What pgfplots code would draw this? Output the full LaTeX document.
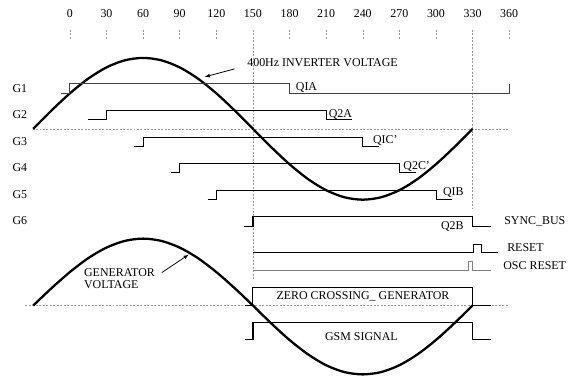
\documentclass[border=0pt]{standalone}
\usepackage{fontspec}
\setmainfont{Liberation Serif}
\usepackage{pgfplots}
\pgfplotsset{compat=1.18}
\begin{document}
\fontsize{12}{13.5}\selectfont
\begin{tikzpicture}
\begin{axis}[width=570bp,height=377bp,scale only axis,hide axis,
  xmin=-57.27,xmax=409.09,ymin=0,ymax=377,y dir=reverse,clip=false,
  every axis plot/.append style={line join=miter}]
\path (rel axis cs:0,0) rectangle (rel axis cs:1,1);
% dashed guides
\pgfplotsset{guide/.style={gray!80,line width=0.5pt,dash pattern=on 2pt off 1.5pt}}
\addplot[guide] coordinates {(-30.6,129) (359.5,129)};
\addplot[guide] coordinates {(-36.4,306) (359.5,306)};
\addplot[guide] coordinates {(150,30) (150,280)};
\addplot[guide] coordinates {(330,30) (330,208)};
\pgfplotsinvokeforeach{0,30,60,90,120,180,210,240,270,300,360}{
  \addplot[guide] coordinates {(#1,30) (#1,40)};
}
\pgfplotsinvokeforeach{0,30,60,90,120,150,180,210,240,270,300,330,360}{
  \node at (axis cs:#1,14) {#1};
}
% inverter voltage
\addplot[black,line width=2.3pt,smooth] coordinates {
(-30,129) (-15,110.6) (0,93.5) (15,78.8) (30,67.5) (45,60.4) (60,58)
(75,60.4) (90,67.5) (105,78.8) (120,93.5) (135,110.6) (150,129)
(165,147.4) (180,164.5) (195,179.2) (210,190.5) (225,197.6) (240,200)
(255,197.6) (270,190.5) (285,179.2) (300,164.5) (315,147.4) (330,129)};
% generator voltage
\addplot[black,line width=2.3pt,smooth] coordinates {
(-30,306) (-15,288.6) (0,272.5) (15,258.6) (30,248) (45,241.3) (60,239)
(75,241.3) (90,248) (105,258.6) (120,272.5) (135,288.6) (150,306)
(165,323.9) (180,340.5) (195,354.8) (210,365.8) (225,372.7) (240,375)
(255,372.7) (270,365.8) (285,354.8) (300,340.5) (315,323.9) (330,306)};
% gate signals
\addplot[black!75,line width=0.9pt] coordinates {(-7.4,94) (0,94) (0,84) (180,84) (180,94) (360,94) (360,84)};
\addplot[black,line width=0.8pt] coordinates {(14.7,120) (30,120) (30,111) (210,111) (210,120) (231.6,120)};
\addplot[black,line width=0.8pt] coordinates {(52.4,147) (60,147) (60,138) (240,138) (240,147) (253.6,147)};
\addplot[black,line width=0.8pt] coordinates {(82.6,173) (90,173) (90,164) (270,164) (270,173) (284,173)};
\addplot[black,line width=0.8pt] coordinates {(112.9,200) (120,200) (120,191) (300,191) (300,200) (313.4,200)};
\addplot[black,line width=1.3pt] coordinates {(142.4,227) (150,227) (150,217) (330,217) (330,227) (345.3,227)};
% reset
\addplot[black,line width=0.8pt] coordinates {(150,253) (330.6,253) (330.6,244.5) (337.4,244.5) (337.4,253) (350.5,253)};
\addplot[gray,line width=1.1pt] coordinates {(150,271) (326.5,271) (326.5,262) (329.8,262) (329.8,271) (345.3,271)};
% zero crossing
\addplot[black,line width=0.9pt] coordinates {(143.2,306) (150,306) (150,288) (330,288) (330,306) (345.3,306)};
% gsm
\addplot[black,line width=1.3pt] coordinates {(143.2,340) (150,340) (150,323) (330,323) (330,340) (345.3,340)};
% labels
\node at (axis cs:-41,89) {G1};
\node at (axis cs:-41,115) {G2};
\node at (axis cs:-41,142) {G3};
\node at (axis cs:-41,168) {G4};
\node at (axis cs:-41,195) {G5};
\node at (axis cs:-41,221) {G6};
\node at (axis cs:193.9,88) {QIA};
\node at (axis cs:221.7,115) {Q2A};
\node at (axis cs:258.5,141) {QIC'};
\node at (axis cs:284.2,167) {Q2C'};
\node at (axis cs:314.2,193) {QIB};
\node at (axis cs:313.4,227) {Q2B};
\node[anchor=west] at (axis cs:352.6,222) {SYNC\_BUS};
\node[anchor=west] at (axis cs:355,248) {RESET};
\node[anchor=west] at (axis cs:351.8,266) {OSC RESET};
\node at (axis cs:240.2,297) {ZERO CROSSING\_ GENERATOR};
\node at (axis cs:238.9,337) {GSM SIGNAL};
\node[anchor=west] at (axis cs:142,63) {400Hz INVERTER VOLTAGE};
\draw[-latex,line width=0.8pt] (axis cs:135,69) -- (axis cs:110.5,77);
\node[anchor=west,align=left,inner sep=0pt] at (axis cs:11.5,279) {GENERATOR\\[-2pt]VOLTAGE};
\draw[-latex,line width=0.8pt] (axis cs:75.3,273) -- (axis cs:97.4,255);
\end{axis}
\end{tikzpicture}
\end{document}
